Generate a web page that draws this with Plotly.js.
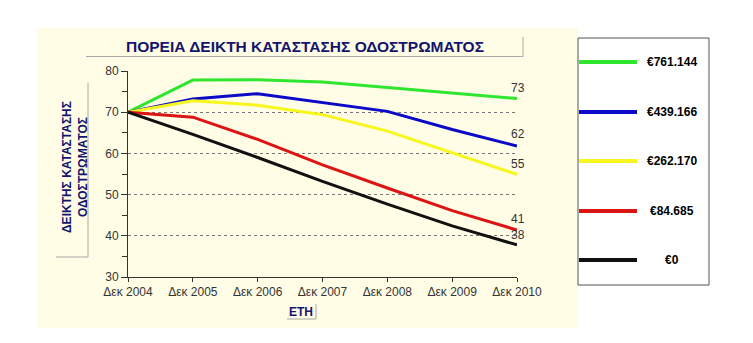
<!DOCTYPE html>
<html>
<head>
<meta charset="utf-8">
<script src="https://cdn.plot.ly/plotly-3.0.1.min.js"></script>
<style>html,body{margin:0;padding:0;background:#fff;}#chart{width:753px;height:343px;}</style>
</head>
<body>
<div id="chart"></div>
<script>
// ---- data ----
var years = [2004, 2005, 2006, 2007, 2008, 2009, 2010];
var tickLabels = ["Δεκ 2004", "Δεκ 2005", "Δεκ 2006", "Δεκ 2007", "Δεκ 2008", "Δεκ 2009", "Δεκ 2010"];
var seriesNames = ["€761.144", "€439.166", "€262.170", "€84.685", "€0"];
var green  = [70, 77.8, 77.9, 77.3, 76.0, 74.6, 73.3];
var blue   = [70, 73.2, 74.5, 72.4, 70.2, 65.8, 61.8];
var yellow = [70, 72.8, 71.7, 69.4, 65.4, 60.2, 54.9];
var red    = [70, 68.8, 63.4, 57.2, 51.6, 46.1, 41.4];
var black  = [70, 64.6, 59.0, 53.2, 47.7, 42.4, 37.8];
var seriesValues = [green, blue, yellow, red, black];
var seriesColors = ["#2fe62f", "#0a0ac8", "#f7f71e", "#dc1414", "#111111"];

var chartTitle = "ΠΟΡΕΙΑ ΔΕΙΚΤΗ ΚΑΤΑΣΤΑΣΗΣ ΟΔΟΣΤΡΩΜΑΤΟΣ";
var yTitle = "ΔΕΙΚΤΗΣ ΚΑΤΑΣΤΑΣΗΣ<br>ΟΔΟΣΤΡΩΜΑΤΟΣ";
var xTitle = "ΕΤΗ";

// ---- layout geometry ----
var W = 753, H = 343;
var L = 128, R = 517, T = 71, B = 277;
function px(x) { return (x - L) / (R - L); }
function py(y) { return (B - y) / (B - T); }

var navy = "#14146e";
var traces = seriesValues.map(function (vals, i) {
  return {
    x: years, y: vals, type: "scatter", mode: "lines",
    name: seriesNames[i], showlegend: false, cliponaxis: false,
    line: { color: seriesColors[i], width: 3 }
  };
});

var shapes = [];
// cream background panel
shapes.push({ type: "rect", xref: "paper", yref: "paper", layer: "below",
  x0: px(37), x1: px(578), y0: py(328), y1: py(28),
  fillcolor: "#fffde6", line: { width: 0 } });
// title shadow
shapes.push({ type: "line", xref: "paper", yref: "paper", x0: px(86), x1: px(523), y0: py(56.5), y1: py(56.5), line: { color: "#a8a8a8", width: 1 } });
shapes.push({ type: "line", xref: "paper", yref: "paper", x0: px(523), x1: px(523), y0: py(37), y1: py(56.5), line: { color: "#a8a8a8", width: 1 } });
// y title shadow
shapes.push({ type: "line", xref: "paper", yref: "paper", x0: px(88), x1: px(88), y0: py(83), y1: py(257), line: { color: "#a8a8a8", width: 1 } });
shapes.push({ type: "line", xref: "paper", yref: "paper", x0: px(56), x1: px(88), y0: py(257), y1: py(257), line: { color: "#a8a8a8", width: 1 } });
// x title shadow
shapes.push({ type: "line", xref: "paper", yref: "paper", x0: px(316), x1: px(316), y0: py(304), y1: py(319), line: { color: "#a8a8a8", width: 1 } });
shapes.push({ type: "line", xref: "paper", yref: "paper", x0: px(287), x1: px(316), y0: py(319), y1: py(319), line: { color: "#a8a8a8", width: 1 } });
// legend box
shapes.push({ type: "rect", xref: "paper", yref: "paper",
  x0: px(578), x1: px(709), y0: py(285), y1: py(38),
  fillcolor: "#ffffff", line: { color: "#555", width: 1 } });

var annotations = [];
var legendY = [62, 112, 161, 211, 260];
seriesNames.forEach(function (n, i) {
  shapes.push({ type: "line", xref: "paper", yref: "paper",
    x0: px(579), x1: px(637), y0: py(legendY[i]), y1: py(legendY[i]),
    line: { color: seriesColors[i], width: 4 } });
  annotations.push({ xref: "paper", yref: "paper", x: px(672), y: py(legendY[i]),
    text: n, showarrow: false, xanchor: "center", yanchor: "middle",
    font: { family: "Liberation Sans, Arial", size: 12, color: "#000", weight: "bold" } });
});

// end-value labels
var labelShift = [11, 12, 10, 11, 10];
seriesValues.forEach(function (vals, i) {
  var last = vals[vals.length - 1];
  annotations.push({ x: years[years.length - 1], y: last, xref: "x", yref: "y",
    text: String(Math.round(last)), showarrow: false, xanchor: "center", yanchor: "middle",
    yshift: labelShift[i], xshift: 1,
    font: { family: "Liberation Sans, Arial", size: 12, color: "#333" } });
});

// titles
annotations.push({ xref: "paper", yref: "paper", x: px(305), y: py(46), text: "<b>" + chartTitle + "</b>",
  showarrow: false, xanchor: "center", yanchor: "middle",
  font: { family: "Liberation Sans, Arial", size: 15.5, color: navy } });
annotations.push({ xref: "paper", yref: "paper", x: px(75), y: py(167), text: "<b>" + yTitle + "</b>",
  showarrow: false, xanchor: "center", yanchor: "middle", textangle: -90,
  font: { family: "Liberation Sans, Arial", size: 12, color: navy } });
annotations.push({ xref: "paper", yref: "paper", x: px(301), y: py(312), text: "<b>" + xTitle + "</b>",
  showarrow: false, xanchor: "center", yanchor: "middle",
  font: { family: "Liberation Sans, Arial", size: 12, color: navy } });

var layout = {
  width: W, height: H,
  margin: { l: L, r: W - R, t: T, b: H - B, pad: 0 },
  paper_bgcolor: "#ffffff",
  plot_bgcolor: "rgba(0,0,0,0)",
  showlegend: false,
  font: { family: "Liberation Sans, Arial", size: 12, color: "#333" },
  xaxis: {
    range: [2004, 2010], tickvals: years, ticktext: tickLabels,
    showline: true, linecolor: "#333", linewidth: 1,
    ticks: "outside", ticklen: 4, tickcolor: "#333",
    showgrid: false, zeroline: false, fixedrange: true,
    tickfont: { size: 12, color: "#333" }
  },
  yaxis: {
    range: [30, 80], dtick: 10, tick0: 30,
    showline: true, linecolor: "#333", linewidth: 1,
    ticks: "outside", ticklen: 6, tickcolor: "#333",
    showgrid: true, gridcolor: "#777", griddash: "dot", gridwidth: 1,
    zeroline: false, fixedrange: true,
    minor: { dtick: 5, ticks: "outside", ticklen: 5, tickcolor: "#333", showgrid: false },
    tickfont: { size: 12, color: "#333" }
  },
  shapes: shapes,
  annotations: annotations
};

Plotly.newPlot("chart", traces, layout, { displayModeBar: false, staticPlot: true });
</script>
</body>
</html>
